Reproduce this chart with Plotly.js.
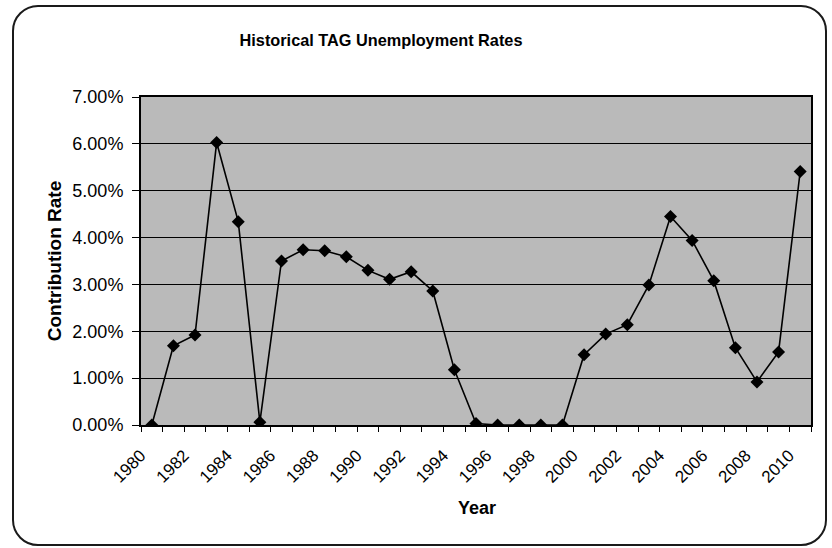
<!DOCTYPE html>
<html>
<head>
<meta charset="utf-8">
<script src="https://cdn.plot.ly/plotly-3.0.1.min.js"></script>
<style>
  html, body { margin: 0; padding: 0; background: #ffffff; }
  #wrap { position: relative; width: 832px; height: 548px; }
  #chart { position: absolute; left: 0; top: 0; width: 832px; height: 548px; }
  #frame { position: absolute; left: 12px; top: 5px; width: 811px; height: 537px;
           border: 2px solid #1a1a1a; border-radius: 26px; pointer-events: none; }
</style>
</head>
<body>
<div id="wrap">
  <div id="chart"></div>
  <div id="frame"></div>
</div>
<script>
const years = [1980,1981,1982,1983,1984,1985,1986,1987,1988,1989,1990,1991,1992,1993,1994,1995,
               1996,1997,1998,1999,2000,2001,2002,2003,2004,2005,2006,2007,2008,2009,2010];
const rates = [0.0000,0.0169,0.0192,0.0603,0.0434,0.0006,0.0350,0.0374,0.0372,0.0359,0.0330,0.0311,0.0327,0.0286,0.0118,0.0003,
               0.0000,0.0000,0.0000,0.0000,0.0150,0.0194,0.0214,0.0299,0.0445,0.0394,0.0308,0.0165,0.0092,0.0156,0.0541];
const yearLabels = ["1980","1982","1984","1986","1988","1990","1992","1994","1996","1998","2000","2002","2004","2006","2008","2010"];
const labelVals = yearLabels.map(Number);
const boundaries = years.map(y => y - 0.5).concat([years[years.length - 1] + 0.5]);

const FONT = 'Arial, "Liberation Sans", sans-serif';

const trace = {
  x: years,
  y: rates,
  type: 'scatter',
  mode: 'lines+markers',
  line: { color: '#000000', width: 1.6 },
  marker: { symbol: 'diamond', size: 10, color: '#000000' },
  hoverinfo: 'x+y'
};

const layout = {
  width: 832,
  height: 548,
  margin: { l: 141, r: 21, t: 97, b: 123 },
  paper_bgcolor: 'rgba(0,0,0,0)',
  plot_bgcolor: '#bababa',
  showlegend: false,
  font: { family: FONT, color: '#000000', size: 18 },
  title: {
    text: '<b>Historical TAG Unemployment Rates</b>',
    font: { family: FONT, size: 16.3, color: '#000000' },
    x: 381 / 832, xref: 'container', xanchor: 'center',
    y: 1 - 40 / 548, yref: 'container', yanchor: 'middle'
  },
  xaxis: {
    range: [boundaries[0], boundaries[boundaries.length - 1]],
    tickmode: 'array',
    tickvals: labelVals,
    ticktext: yearLabels,
    tickangle: -45,
    ticks: '',
    ticklabelstandoff: 12,
    ticklabelshift: -11,
    showgrid: false,
    zeroline: false,
    showline: true,
    mirror: true,
    linecolor: '#000000',
    linewidth: 2,
    tickfont: { family: FONT, size: 17, color: '#000000' },
    minor: {
      tickmode: 'array',
      tickvals: boundaries,
      ticks: 'outside',
      ticklen: 5,
      tickwidth: 1,
      tickcolor: '#000000',
      showgrid: false
    },
    automargin: false
  },
  yaxis: {
    range: [0, 0.07],
    tickmode: 'linear',
    tick0: 0,
    dtick: 0.01,
    tickformat: '.2%',
    ticks: 'outside',
    ticklen: 7,
    tickcolor: '#000000',
    ticklabelstandoff: 5,
    showgrid: true,
    gridcolor: '#000000',
    gridwidth: 1.2,
    zeroline: false,
    showline: true,
    mirror: true,
    linecolor: '#000000',
    linewidth: 2,
    tickfont: { family: FONT, size: 18, color: '#000000' },
    title: { text: '<b>Contribution Rate</b>', font: { family: FONT, size: 19, color: '#000000' }, standoff: 6 },
    automargin: false
  },
  annotations: [{
    text: '<b>Year</b>',
    xref: 'paper', yref: 'paper',
    x: (477 - 141) / 670, y: -(508 - 425) / 328,
    xanchor: 'center', yanchor: 'middle',
    showarrow: false,
    font: { family: FONT, size: 18, color: '#000000' }
  }]
};

Plotly.newPlot('chart', [trace], layout, { displayModeBar: false, staticPlot: true });
</script>
</body>
</html>
